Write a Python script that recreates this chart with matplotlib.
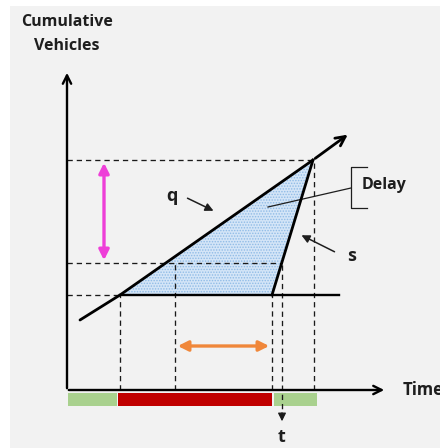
import matplotlib
matplotlib.use("Agg")
import matplotlib.pyplot as plt
from matplotlib.patches import Polygon, Rectangle

# ---- data (time units, cumulative vehicles) ----
arrival_t = [13, 53, 246]
arrival_n = [70, 95, 230]
arrival_tip = (283, 257)
departure_t = [205, 246]
departure_n = [95, 230]
queue_level = 95
queue_end = 272
mid_level = 127
top_level = 230
t_mark = 215
red_start, red_end = 51, 205
green1 = (1, 50)
green2 = (207, 250)
orange_span = (108, 205)
orange_y = 44
pink_x = 37
axis_len = 320

plt.rcParams['font.family'] = ['Open Sans', 'DejaVu Sans']
plt.rcParams['hatch.linewidth'] = 0.7

fig = plt.figure(figsize=(4.4, 4.48), dpi=100, facecolor='white')
fig.patches.append(Rectangle((10/440, 0), 1, 1 - 6/448, transform=fig.transFigure,
                             facecolor='#f2f2f2', edgecolor='none', zorder=-10))
ax = fig.add_axes([0, 0, 1, 1])
ax.set_xlim(-67, 373)
ax.set_ylim(-58, 390)
ax.axis('off')
ax.patch.set_alpha(0)

# shaded delay area
tri = Polygon([(arrival_t[1], arrival_n[1]), (arrival_t[2], arrival_n[2]),
               (departure_t[0], departure_n[0])], closed=True,
              facecolor='#d4e5f7', edgecolor='#8fbbe6', lw=0, hatch='......', zorder=1)
ax.add_patch(tri)

dash = dict(color='#1a1a1a', lw=0.95, ls=(0, (4, 3)), zorder=2)
# horizontal dashed guides
ax.plot([0, arrival_t[2]], [top_level, top_level], **dash)
ax.plot([0, t_mark], [mid_level, mid_level], **dash)
ax.plot([0, arrival_t[1]], [queue_level, queue_level], **dash)
# vertical dashed guides
ax.plot([arrival_t[1]] * 2, [0, queue_level], **dash)
ax.plot([orange_span[0]] * 2, [0, mid_level], **dash)
ax.plot([departure_t[0]] * 2, [0, queue_level], **dash)
ax.plot([arrival_t[2] + 1] * 2, [0, top_level], **dash)
ax.plot([t_mark] * 2, [-28, mid_level], **dash)
ax.annotate('', xy=(t_mark, -34), xytext=(t_mark, -20),
            arrowprops=dict(arrowstyle='-|>', color='#1a1a1a', lw=0.9, mutation_scale=12))

# axes
ax.annotate('', xy=(0, axis_len), xytext=(0, -1),
            arrowprops=dict(arrowstyle='->', color='black', lw=1.7, mutation_scale=15))
ax.annotate('', xy=(axis_len, 0), xytext=(-1, 0),
            arrowprops=dict(arrowstyle='->', color='black', lw=1.7, mutation_scale=15))

# arrival curve
ax.plot(arrival_t, arrival_n, color='black', lw=2.0, zorder=3, solid_capstyle='round')
ax.annotate('', xy=arrival_tip, xytext=(arrival_t[2], arrival_n[2]),
            arrowprops=dict(arrowstyle='->', color='black', lw=2.0, mutation_scale=17))
# departure
ax.plot(departure_t, departure_n, color='black', lw=2.0, zorder=3)
ax.plot([arrival_t[1], queue_end], [queue_level, queue_level], color='black', lw=1.7, zorder=3)

# pink arrow
ax.annotate('', xy=(pink_x, top_level), xytext=(pink_x, mid_level),
            arrowprops=dict(arrowstyle='<|-|>', color='#ee3fd8', lw=2.4, mutation_scale=15))
# orange arrow
ax.annotate('', xy=(orange_span[0], orange_y), xytext=(orange_span[1], orange_y),
            arrowprops=dict(arrowstyle='<|-|>', color='#f0873a', lw=2.4, mutation_scale=15))

# signal bars
ax.add_patch(Rectangle((green1[0], -16), green1[1] - green1[0], 13, facecolor='#a9d18e', edgecolor='none'))
ax.add_patch(Rectangle((red_start, -16), red_end - red_start, 13, facecolor='#c00000', edgecolor='none'))
ax.add_patch(Rectangle((green2[0], -16), green2[1] - green2[0], 13, facecolor='#a9d18e', edgecolor='none'))

# labels
tc = '#1e1e1e'
ax.text(0, 368, 'Cumulative', ha='center', va='center', fontsize=11.5, fontweight='bold', color=tc)
ax.text(0, 344, 'Vehicles', ha='center', va='center', fontsize=11.5, fontweight='bold', color=tc)
ax.text(336, 0, 'Time', ha='left', va='center', fontsize=12, fontweight='bold', color=tc)
ax.text(t_mark, -47, 't', ha='center', va='center', fontsize=13, fontweight='bold', color=tc)
ax.text(105, 194, 'q', ha='center', va='center', fontsize=13, fontweight='bold', color=tc)
ax.annotate('', xy=(149, 178), xytext=(118, 193),
            arrowprops=dict(arrowstyle='-|>', color=tc, lw=1.1, mutation_scale=12))
ax.text(285, 134, 's', ha='center', va='center', fontsize=13, fontweight='bold', color=tc)
ax.annotate('', xy=(232, 156), xytext=(270, 137),
            arrowprops=dict(arrowstyle='-|>', color=tc, lw=1.1, mutation_scale=12))
ax.text(295, 205, 'Delay', ha='left', va='center', fontsize=11.5, fontweight='bold', color=tc)
ax.plot([300, 284, 284, 300], [223, 223, 182, 182], color=tc, lw=0.9)
ax.plot([284, 201], [202, 183], color=tc, lw=0.9)

fig.savefig('out.png', dpi=100, facecolor='white')
